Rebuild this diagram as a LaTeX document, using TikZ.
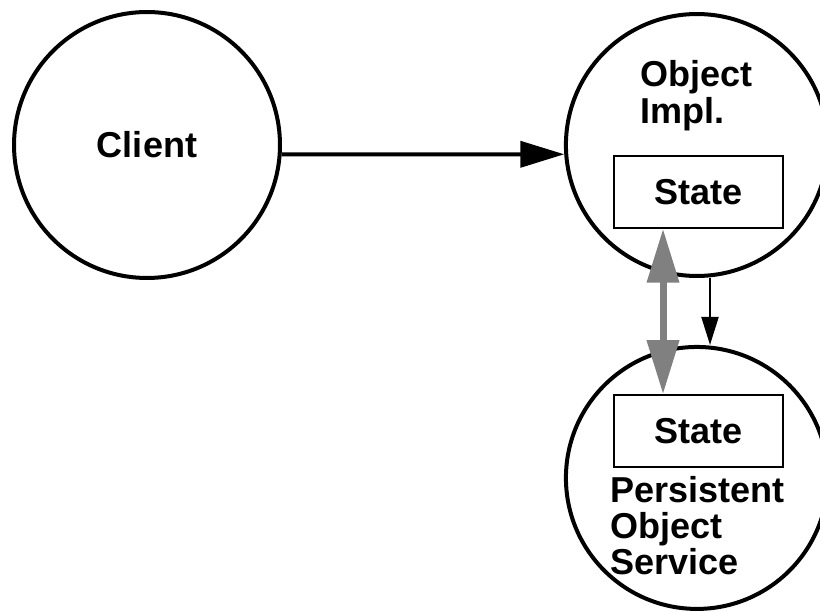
\documentclass[tikz,border=0pt]{standalone}
\usepackage{fontspec}
\setmainfont{Liberation Sans}
\usetikzlibrary{positioning,arrows.meta}
\newcommand{\LblFont}{\fontsize{20.5}{20.5}\selectfont\bfseries}

\begin{document}
\begin{tikzpicture}[x=0.02cm, y=-0.02cm,
		obj/.style={draw, circle, line width=0.08cm, minimum size=5.24cm, inner sep=0pt, font=\LblFont},
		statebox/.style={draw, rectangle, line width=0.03cm, minimum width=3.38cm, minimum height=1.44cm, font=\LblFont},
		lbl/.style={align=left, inner sep=0pt, font=\LblFont},
		call/.style={line width=0.08cm, -{Triangle[length=0.88cm, width=0.52cm]}},
		sync/.style={gray, line width=0.14cm, {Triangle[length=1.08cm, width=0.62cm]}-{Triangle[length=1.08cm, width=0.62cm]}},
		store/.style={line width=0.04cm, -{Triangle[length=0.56cm, width=0.34cm]}}]
		\useasboundingbox (0,0) rectangle (820,611);
		\clip (0,0) rectangle (820,611);

		% Define nodes
		\node[obj, minimum size=5.32cm] (client) at (147,145) {Client};
		\node[obj, right=5.64cm of client] (impl) {};
		\node[obj, below=1.34cm of impl] (pos) {};
		\node[statebox] (stateA) at ([xshift=0.03cm, yshift=-0.94cm]impl.center) {State};
		\node[statebox] (stateB) at ([xshift=0.03cm, yshift=0.94cm]pos.center) {State};
		\node[lbl, anchor=base west] (impllbl) at ([xshift=-1.14cm, yshift=0.44cm]impl.center) {Object\\Impl.};
		\node[lbl, anchor=base west] (poslbl) at ([xshift=-1.74cm, yshift=-1.94cm]pos.center) {Persistent\\Object\\Service};
		\coordinate (gx) at (663,0);
		\coordinate (ax) at (710,0);

		% Connect the nodes
		\draw[call] (client.-4.3) -- (impl.184.3);
		\draw[sync] (stateA.south -| gx) -- (stateB.north -| gx);
		\draw[store] (impl.south -| ax) -- (pos.north -| ax);
	\end{tikzpicture}
\end{document}
